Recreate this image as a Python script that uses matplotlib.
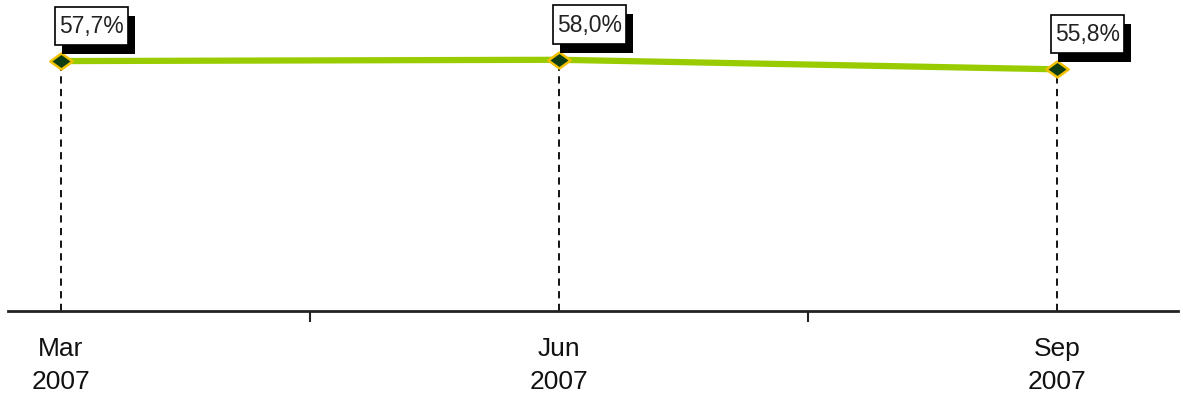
#Imports
import matplotlib
matplotlib.use("Agg")
import matplotlib.pyplot as plt
import matplotlib.patheffects as pe
from matplotlib.patches import Rectangle
from matplotlib.path import Path
from matplotlib.transforms import IdentityTransform

#Data
months = ["Mar\n2007", "Jun\n2007", "Sep\n2007"]
shares = [57.7, 58.0, 55.8]
labels = ["57,7%", "58,0%", "55,8%"]

#Colours
LINE_COLOR = "#99cc00"
MARKER_FACE = "#0f3d12"
MARKER_EDGE = "#f0c000"

plt.rcParams['font.family'] = ['Liberation Sans', 'DejaVu Sans']

fig = plt.figure(figsize=(11.83, 3.96), dpi=100)
ax = fig.add_axes([0.00676, 0.2146, 0.989, 0.7854])
ax.set_xlim(-0.1064, 2.243)
ax.set_ylim(0, 71.8)

x = list(range(len(shares)))

#Slightly flattened diamond marker
diamond = Path([(-1, 0), (0, 0.72), (1, 0), (0, -0.72), (-1, 0)],
               [Path.MOVETO, Path.LINETO, Path.LINETO, Path.LINETO, Path.CLOSEPOLY])

#Dashed drop lines from each point down to the axis
for xi, v in zip(x, shares):
    ax.plot([xi, xi], [0, v], color="black", lw=1.3, ls=(0, (4, 3)), zorder=2)

#Main series
ax.plot(x, shares, color=LINE_COLOR, lw=4.5, zorder=3, solid_capstyle="butt")
ax.plot(x, shares, ls="none", marker=diamond, ms=16, mfc=MARKER_FACE,
        mec=MARKER_EDGE, mew=1.8, zorder=4, clip_on=False)

#Value labels: text first, then a white box with a black drop shadow around it
FS = 16.5
texts = []
for xi, v, lab in zip(x, shares, labels):
    t = ax.annotate(lab, (xi, v), xytext=(-2, 28), textcoords="offset pixels",
                    ha="left", va="baseline", fontsize=FS, color="#222222",
                    zorder=7, annotation_clip=False)
    texts.append(t)

fig.canvas.draw()
renderer = fig.canvas.get_renderer()
cap = FS * 100 / 72 * 0.72
for t, xi, v in zip(texts, x, shares):
    bb = t.get_window_extent(renderer)
    px, py = ax.transData.transform((xi, v))
    base = py + 28
    left, right = bb.x0 - 4, bb.x1 + 4
    bottom, top = base - 12, base + cap + 10
    box = Rectangle((left, bottom), right - left, top - bottom,
                    transform=IdentityTransform(), fc="white", ec="black",
                    lw=1.2, zorder=6, clip_on=False)
    box.set_path_effects([
        pe.SimplePatchShadow(offset=(5, -6.5), shadow_rgbFace="black", alpha=1),
        pe.Normal()])
    ax.add_artist(box)

#Axes styling
for side in ["top", "right", "left"]:
    ax.spines[side].set_visible(False)
ax.spines["bottom"].set_linewidth(2)
ax.spines["bottom"].set_color("#222222")
ax.set_yticks([])
ax.set_xticks(x)
ax.set_xticklabels(months, fontsize=19, color="#111111", linespacing=1.45)
ax.set_xticks([0.5, 1.5], minor=True)
ax.tick_params(axis="x", which="major", length=0, pad=19)
ax.tick_params(axis="x", which="minor", length=8, width=1.5, color="#222222")

fig.savefig("out.png", dpi=100)
